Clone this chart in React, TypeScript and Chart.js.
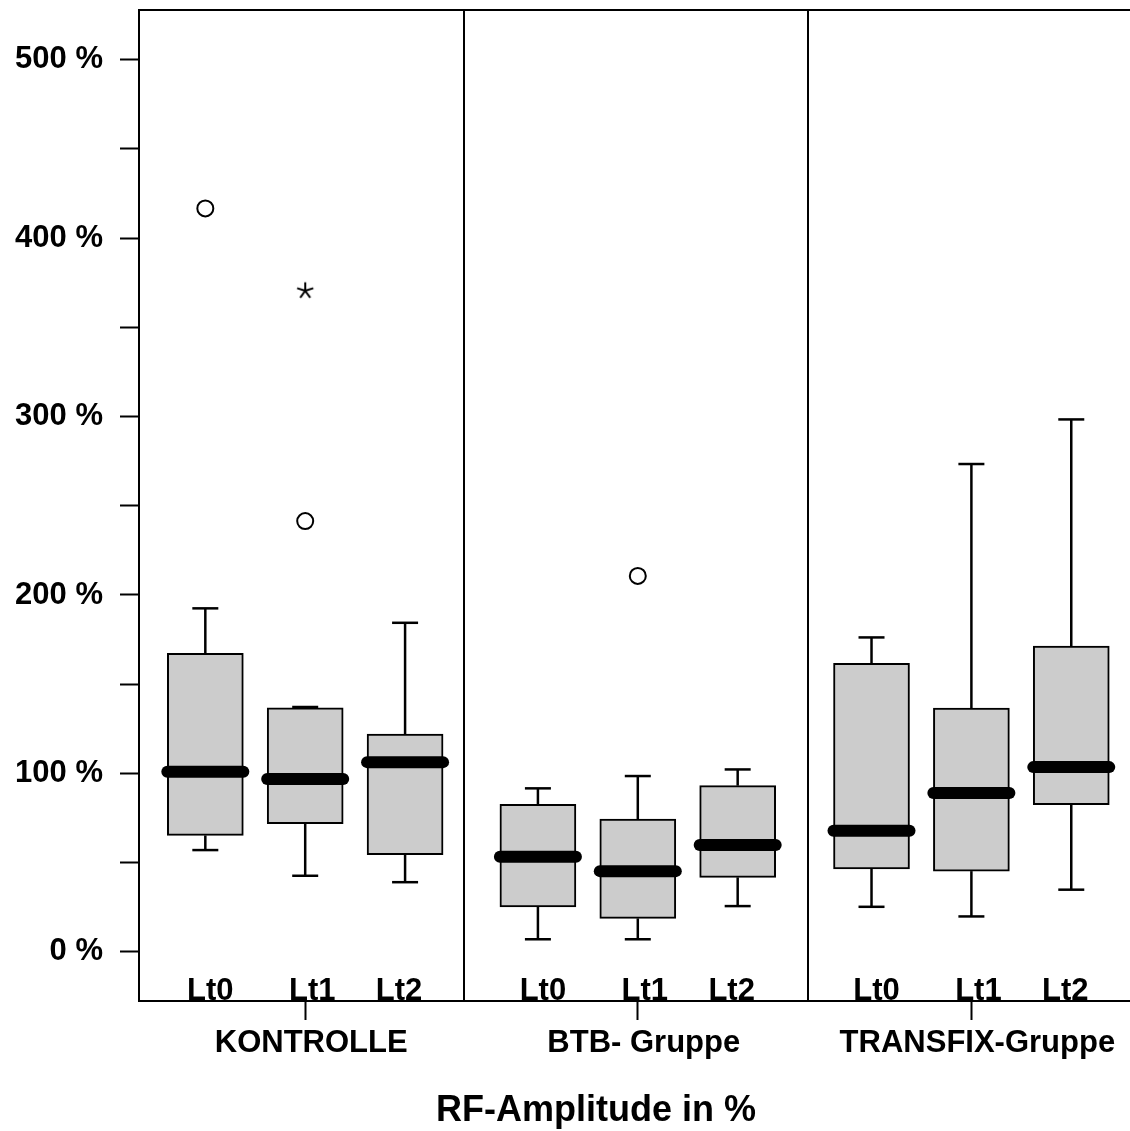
import React, { useEffect, useRef } from 'react';
import { Chart, registerables } from 'chart.js';

Chart.register(...registerables);

// ---- data ----
const GROUPS = ['KONTROLLE', 'BTB- Gruppe', 'TRANSFIX-Gruppe'];
const TIMEPOINTS = ['Lt0', 'Lt1', 'Lt2'];
// x position of every box (three per group, wider gap between groups)
const SLOT_X = [1, 2, 3, 4.33, 5.33, 6.33, 7.67, 8.67, 9.67];
const GROUP_DIVIDERS = [3.59, 7.03];
const X_RANGE = [0.336, 10.258];
const Y_RANGE = [-27.6, 527.9];
const Y_TICKS = [0, 50, 100, 150, 200, 250, 300, 350, 400, 450, 500];

// five-number summaries per box, in %
const WHISKER_LOW = [57, 42.6, 39, 7, 7, 25.6, 25.2, 19.8, 34.8];
const Q1 = [65.2, 71.8, 54.4, 25.2, 18.7, 41.7, 46.4, 45.2, 82.4];
const MEDIAN = [100.9, 96.8, 106.3, 53.3, 45.2, 59.8, 67.8, 89.0, 103.5];
const Q3 = [167.3, 136.8, 122.0, 82.6, 74.4, 93.1, 161.7, 136.6, 171.3];
const WHISKER_HIGH = [192.5, 137.2, 184.4, 91.6, 98.5, 102.2, 176.2, 273.4, 298.4];

// outliers (circles) and extreme values (asterisks): box index + value
const OUTLIER_SLOTS = [0, 1, 4];
const OUTLIER_VALUES = [416.7, 241.4, 210.7];
const EXTREME_SLOTS = [1];
const EXTREME_VALUES = [370.5];

const TITLE = 'RF-Amplitude in %';

// ---- styling ----
const FONT_FAMILY = "'Liberation Sans', Arial, Helvetica, sans-serif";
const BOX_FILL = '#cccccc';
const INK = '#000000';
const BOX_PX = 76;
const CAP_PX = 26;
const LABEL_PX = 31;
const LT_NUDGE = [5, 7, -6];

function makeAsterisk(): HTMLCanvasElement {
  const c = document.createElement('canvas');
  c.width = 20;
  c.height = 20;
  const g = c.getContext('2d')!;
  g.strokeStyle = INK;
  g.lineWidth = 2;
  g.lineCap = 'butt';
  for (let k = 0; k < 5; k++) {
    const a = -Math.PI / 2 + (k * 2 * Math.PI) / 5;
    g.beginPath();
    g.moveTo(10, 10);
    g.lineTo(10 + Math.cos(a) * 8.5, 10 + Math.sin(a) * 8.5);
    g.stroke();
  }
  return c;
}

const boxDetails = {
  id: 'boxDetails',
  afterDatasetsDraw(chart: any) {
    const { ctx, chartArea, scales } = chart;
    const x = scales.x;
    const y = scales.y;
    ctx.save();

    // whiskers with end caps
    ctx.strokeStyle = INK;
    ctx.lineWidth = 2.5;
    ctx.lineCap = 'butt';
    SLOT_X.forEach((sx, i) => {
      const px = x.getPixelForValue(sx);
      const pairs = [
        [Q3[i], WHISKER_HIGH[i]],
        [Q1[i], WHISKER_LOW[i]],
      ];
      pairs.forEach(([from, to]) => {
        const y0 = y.getPixelForValue(from);
        const y1 = y.getPixelForValue(to);
        ctx.beginPath();
        ctx.moveTo(px, y0);
        ctx.lineTo(px, y1);
        ctx.stroke();
        ctx.beginPath();
        ctx.moveTo(px - CAP_PX / 2, y1);
        ctx.lineTo(px + CAP_PX / 2, y1);
        ctx.stroke();
      });
    });

    // thick medians
    ctx.lineWidth = 12;
    ctx.lineCap = 'round';
    SLOT_X.forEach((sx, i) => {
      const px = x.getPixelForValue(sx);
      const py = y.getPixelForValue(MEDIAN[i]);
      ctx.beginPath();
      ctx.moveTo(px - BOX_PX / 2, py);
      ctx.lineTo(px + BOX_PX / 2, py);
      ctx.stroke();
    });

    // frame top and group dividers
    ctx.lineCap = 'butt';
    ctx.lineWidth = 2;
    ctx.beginPath();
    ctx.moveTo(chartArea.left, chartArea.top);
    ctx.lineTo(chartArea.right, chartArea.top);
    ctx.stroke();
    GROUP_DIVIDERS.forEach((d) => {
      const px = Math.round(x.getPixelForValue(d));
      ctx.beginPath();
      ctx.moveTo(px, chartArea.top);
      ctx.lineTo(px, chartArea.bottom);
      ctx.stroke();
    });

    // time point labels sitting on the axis
    ctx.fillStyle = INK;
    ctx.font = `bold ${LABEL_PX}px ${FONT_FAMILY}`;
    ctx.textAlign = 'center';
    ctx.textBaseline = 'alphabetic';
    SLOT_X.forEach((sx, i) => {
      const px = x.getPixelForValue(sx) + LT_NUDGE[i % 3];
      ctx.fillText(TIMEPOINTS[i % 3], px, chartArea.bottom - 1);
    });

    // axis title
    ctx.font = `bold 36px ${FONT_FAMILY}`;
    ctx.fillText(TITLE, 596, 1121);

    ctx.restore();
  },
};

export default function App() {
  const canvasRef = useRef<HTMLCanvasElement | null>(null);

  useEffect(() => {
    document.body.style.margin = '0';
    const canvas = canvasRef.current;
    if (!canvas) return;
    const asterisk = makeAsterisk();

    const chart = new Chart(canvas, {
      type: 'bar',
      data: {
        datasets: [
          {
            type: 'bar',
            data: SLOT_X.map((sx, i) => ({ x: sx, y: [Q1[i], Q3[i]] })) as any,
            backgroundColor: BOX_FILL,
            borderColor: INK,
            borderWidth: 2,
            borderSkipped: false,
            barThickness: BOX_PX,
          } as any,
          {
            type: 'scatter',
            data: OUTLIER_SLOTS.map((s, i) => ({ x: SLOT_X[s], y: OUTLIER_VALUES[i] })),
            pointStyle: 'circle',
            pointRadius: 8,
            borderWidth: 2,
            borderColor: INK,
            backgroundColor: 'rgba(255,255,255,0)',
          } as any,
          {
            type: 'scatter',
            data: EXTREME_SLOTS.map((s, i) => ({ x: SLOT_X[s], y: EXTREME_VALUES[i] })),
            pointStyle: asterisk,
            pointRadius: 9,
          } as any,
        ],
      },
      options: {
        responsive: false,
        animation: false,
        devicePixelRatio: 1,
        layout: { autoPadding: false, padding: { top: 10, left: 0, right: 0, bottom: 0 } },
        plugins: {
          legend: { display: false },
          tooltip: { enabled: false },
        },
        scales: {
          x: {
            type: 'linear',
            min: X_RANGE[0],
            max: X_RANGE[1],
            offset: false,
            afterBuildTicks: (scale: any) => {
              scale.ticks = [SLOT_X[1], SLOT_X[4], SLOT_X[7]].map((v) => ({ value: v }));
            },
            afterFit: (scale: any) => {
              scale.height = 130;
              scale.paddingLeft = 0;
              scale.paddingRight = 0;
            },
            ticks: {
              autoSkip: false,
              maxRotation: 0,
              padding: 5,
              labelOffset: 6,
              color: INK,
              font: { family: FONT_FAMILY, size: LABEL_PX, weight: 'bold' },
              callback: (_v: any, i: number) => GROUPS[i],
            },
            grid: {
              offset: false,
              drawOnChartArea: false,
              drawTicks: true,
              tickLength: 19,
              tickWidth: 2,
              tickColor: INK,
            },
            border: { display: true, color: INK, width: 2 },
          } as any,
          y: {
            type: 'linear',
            min: Y_RANGE[0],
            max: Y_RANGE[1],
            afterBuildTicks: (scale: any) => {
              scale.ticks = Y_TICKS.map((v) => ({ value: v }));
            },
            afterFit: (scale: any) => {
              scale.width = 139;
              scale.paddingTop = 0;
              scale.paddingBottom = 0;
            },
            ticks: {
              autoSkip: false,
              padding: 17,
              color: INK,
              font: { family: FONT_FAMILY, size: LABEL_PX, weight: 'bold' },
              callback: (v: any) => (Number(v) % 100 === 0 ? `${v} %` : ''),
            },
            grid: {
              drawOnChartArea: false,
              drawTicks: true,
              tickLength: 19,
              tickWidth: 2,
              tickColor: INK,
            },
            border: { display: true, color: INK, width: 2 },
          } as any,
        },
      } as any,
      plugins: [boxDetails],
    });

    return () => chart.destroy();
  }, []);

  return (
    <div style={{ width: 1130, height: 1131, background: '#ffffff' }}>
      <canvas ref={canvasRef} width={1130} height={1131} style={{ display: 'block' }} />
    </div>
  );
}
